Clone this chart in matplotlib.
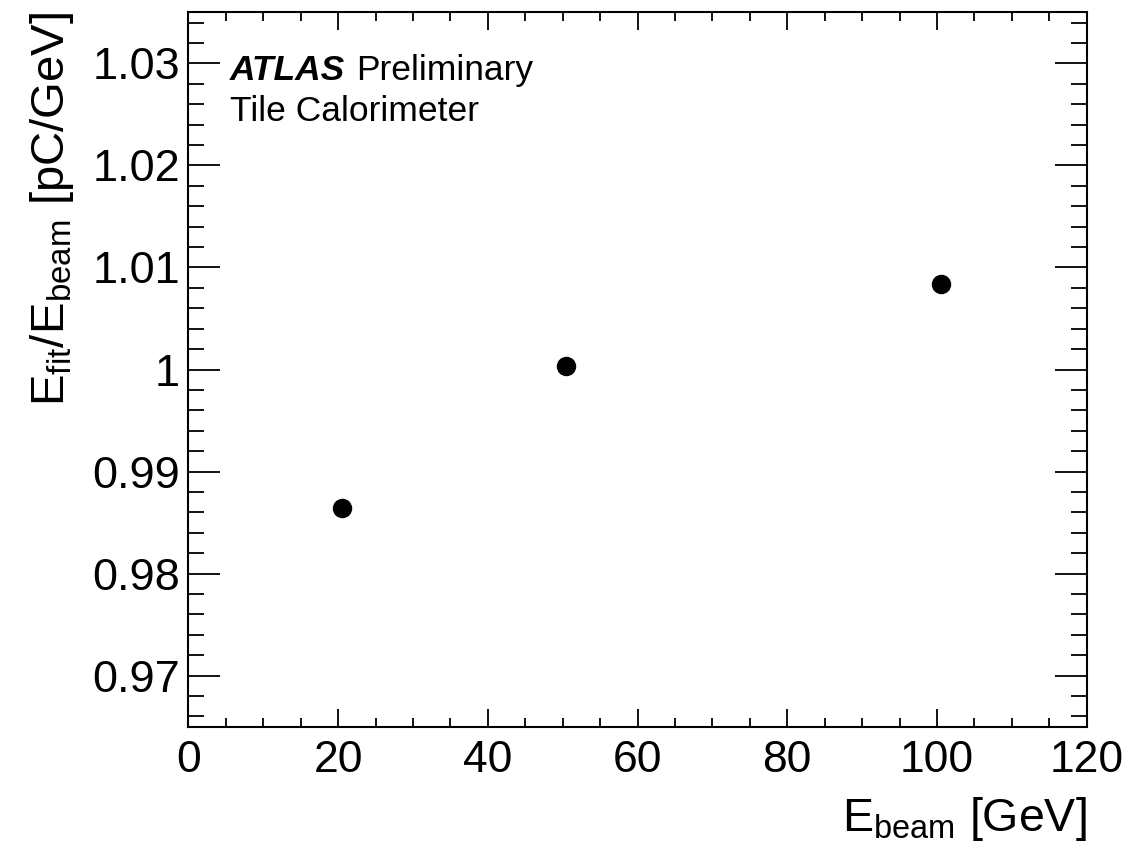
import matplotlib
matplotlib.use('Agg')
import matplotlib.pyplot as plt
from matplotlib.ticker import MultipleLocator

plt.rcParams['font.family'] = ['Liberation Sans', 'DejaVu Sans']
plt.rcParams['mathtext.default'] = 'regular'

# 読み取った値
e_beam = [20.55, 50.5, 100.5]
ratio = [0.98646, 1.00034, 1.00840]

fig = plt.figure(figsize=(11.4, 8.44), dpi=100)
ax = fig.add_axes([0.1652, 0.139, 0.7881, 0.8464])

ax.plot(e_beam, ratio, 'o', color='black', markersize=13)

ax.set_xlim(0, 120)
ax.set_ylim(0.965, 1.035)
ax.xaxis.set_major_locator(MultipleLocator(20))
ax.xaxis.set_minor_locator(MultipleLocator(5))
ax.yaxis.set_minor_locator(MultipleLocator(0.002))
ax.set_yticks([0.97, 0.98, 0.99, 1.0, 1.01, 1.02, 1.03])
ax.set_yticklabels(['0.97', '0.98', '0.99', '1', '1.01', '1.02', '1.03'])

ax.tick_params(which='both', direction='in', top=True, right=True, width=1.3, colors='black')
ax.tick_params(axis='x', which='major', length=13, pad=9.5, labelsize=32)
ax.tick_params(axis='x', which='minor', length=6.5)
ax.tick_params(axis='y', which='major', length=23, pad=6, labelsize=32.5)
ax.tick_params(axis='y', which='minor', length=11.5)
for s in ax.spines.values():
    s.set_linewidth(1.5)

ax.set_xlabel(r'$E_{beam}$ [GeV]', fontsize=33.5, loc='right', labelpad=10)
ax.set_ylabel(r'$E_{fit}/E_{beam}$ [pC/GeV]', fontsize=34, loc='top', labelpad=12)

ax.text(0.046, 0.905, 'ATLAS', transform=ax.transAxes, fontsize=25.5,
        fontweight='bold', fontstyle='italic', va='baseline')
ax.text(0.187, 0.905, 'Preliminary', transform=ax.transAxes, fontsize=25.5, va='baseline')
ax.text(0.046, 0.848, 'Tile Calorimeter', transform=ax.transAxes, fontsize=25.5, va='baseline')

plt.savefig('out.png', dpi=100)
